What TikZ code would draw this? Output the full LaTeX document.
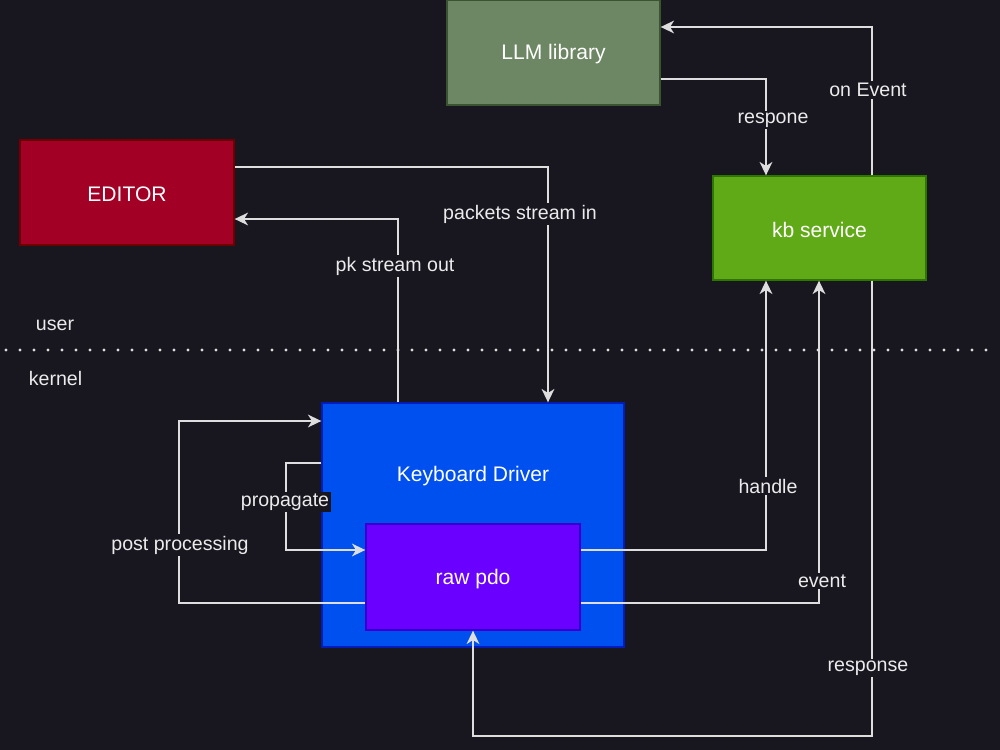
\documentclass[tikz,border=0pt]{standalone}
\usepackage{fontspec}
\setmainfont{Liberation Sans}
\usetikzlibrary{arrows.meta}
\definecolor{bg}{RGB}{24,22,31}
\definecolor{linec}{RGB}{222,222,222}
\definecolor{lblc}{RGB}{235,235,235}
\definecolor{llmF}{HTML}{6D8764}\definecolor{llmS}{HTML}{3A5431}
\definecolor{edF}{HTML}{A20025}\definecolor{edS}{HTML}{6F0000}
\definecolor{kbF}{HTML}{60A917}\definecolor{kbS}{HTML}{2D7600}
\definecolor{kdF}{HTML}{0050EF}\definecolor{kdS}{HTML}{001DBC}
\definecolor{rawF}{HTML}{6A00FF}\definecolor{rawS}{HTML}{3700CC}
\begin{document}
\begin{tikzpicture}[x=0.75pt,y=-0.75pt,
  sz/.style 2 args={minimum width=#1*0.75pt, minimum height=#2*0.75pt},
  box/.style={draw, line width=1pt, inner sep=0pt, text=white, font=\fontsize{15.8}{18}\selectfont},
  boxtxt/.style={text=white, inner sep=0pt, font=\fontsize{15.8}{18}\selectfont},
  arr/.style={draw=linec, line width=1.5pt, -{Stealth[length=10pt,width=9.5pt,inset=3pt]}},
  lbl/.style={fill=bg, text=lblc, inner sep=1.5pt, font=\fontsize{14.7}{17}\selectfont},
  side/.style={text=lblc, inner sep=0pt, font=\fontsize{14.7}{17}\selectfont}]
\fill[bg] (0,0) rectangle (1000,750);
\useasboundingbox (0,0) rectangle (1000,750);

% boxes
\node[box, sz={213}{105}, fill=llmF, draw=llmS] (llm) at (553.5,52.5) {};
\node[boxtxt] (llmt) at (553.5,54) {LLM library};
\node[box, sz={214}{105}, fill=edF, draw=edS] (ed) at (127,192.5) {};
\node[boxtxt] (edt) at (127,194) {EDITOR};
\node[box, sz={213}{104}, fill=kbF, draw=kbS] (kb) at (819.5,228) {};
\node[boxtxt] (kbt) at (819.5,229.5) {kb service};
\node[box, sz={302}{244}, fill=kdF, draw=kdS] (kd) at (473,525) {};
\node[boxtxt] (kdl) at (473,476) {Keyboard Driver};
\node[box, sz={214}{106}, fill=rawF, draw=rawS] (raw) at (473,577) {};
\node[boxtxt] (rawt) at (473,579) {raw pdo};

% user / kernel separator
\coordinate (sepL) at (6,350);
\coordinate (sepR) at (996,350);
\draw[draw=linec, line width=2.6pt, line cap=round, dash pattern=on 0pt off 10.5pt] (sepL) -- (sepR);
\node[side] (user) at (55,325) {user};
\node[side] (kernel) at (55.5,378) {kernel};

% connectors
\draw[arr] (kb.north -| 872,0) |- (llm.east |- 0,27);
\draw[arr] (llm.east |- 0,79) -| (kb.north -| 766,0);
\draw[arr] (ed.east |- 0,167) -| (kd.north -| 548,0);
\draw[arr] (kd.north -| 398,0) |- (ed.east |- 0,219);
\draw[arr] (raw.west |- 0,603) -- ++(-186,0) |- (kd.west |- 0,421);
\draw[arr] (kd.west |- 0,463) -- ++(-35,0) |- (raw.west |- 0,550);
\draw[arr] (raw.east |- 0,550) -| (kb.south -| 766,0);
\draw[arr] (raw.east |- 0,603) -| (kb.south -| 819,0);
\draw[arr] (kb.south -| 872,0) -- ++(0,455) -| (raw.south);

% connector labels
\node[lbl] (l1) at (868,90) {on Event};
\node[lbl] (l2) at (773,120) {respone};
\node[lbl] (l3) at (520,214) {packets stream in};
\node[lbl] (l4) at (395,266) {pk stream out};
\node[lbl] (l5) at (180,545) {post processing};
\node[lbl] (l6) at (285,502) {propagate};
\node[lbl] (l7) at (768,486) {handle};
\node[lbl] (l8) at (822,581) {event};
\node[lbl] (l9) at (868,668) {response};
\end{tikzpicture}
\end{document}
